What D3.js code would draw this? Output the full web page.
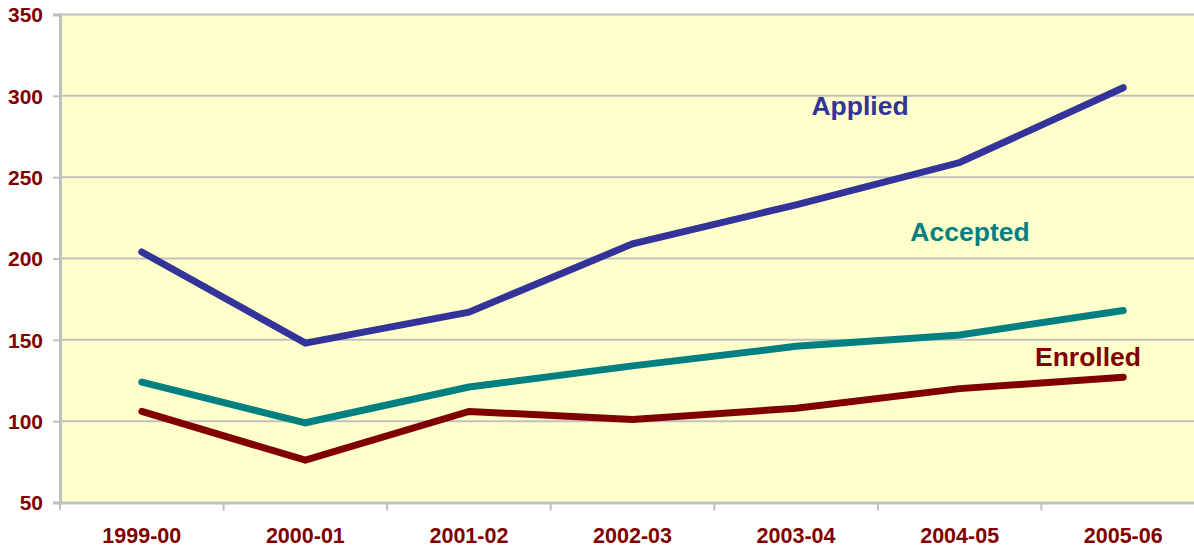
<!DOCTYPE html>
<html>
<head>
<meta charset="utf-8">
<script src="https://cdn.jsdelivr.net/npm/d3@7"></script>
<style>
  body { margin: 0; background: #fff; }
  text { font-family: "Liberation Sans", Arial, sans-serif; font-weight: bold; }
</style>
</head>
<body>
<script>
// data
var years = ["1999-00", "2000-01", "2001-02", "2002-03", "2003-04", "2004-05", "2005-06"];
var applied  = [204, 148, 167, 209, 233, 259, 305];
var accepted = [124,  99, 121, 134, 146, 153, 168];
var enrolled = [106,  76, 106, 101, 108, 120, 127];
var yTicks = [50, 100, 150, 200, 250, 300, 350];

var width = 1194, height = 548,
    margin = {left: 60, top: 14.5, right: -11, bottom: 45.5},
    svg = d3.select("body").append("svg").attr("width", width).attr("height", height);

var x = d3.scaleBand().domain(years).range([margin.left, width - margin.right]),
    y = d3.scaleLinear().domain([50, 350]).range([height - margin.bottom, margin.top]);

// plot background
svg.append("rect")
   .attr("x", margin.left).attr("y", margin.top)
   .attr("width", width - margin.right - margin.left)
   .attr("height", y(50) - y(350))
   .attr("fill", "#ffffcc");

// gridlines
svg.append("g").selectAll("line")
   .data(yTicks.slice(1))
   .enter().append("line")
     .attr("x1", margin.left).attr("x2", width)
     .attr("y1", function(d){ return y(d); })
     .attr("y2", function(d){ return y(d); })
     .attr("stroke", "#c0c0c0").attr("stroke-width", 2);

// y axis
var yAxis = d3.axisLeft(y).tickValues(yTicks).tickSize(7).tickPadding(10);
var gy = svg.append("g").attr("transform", "translate(" + margin.left + ",0)").call(yAxis);
gy.select(".domain").attr("stroke", "#c0c0c0").attr("stroke-width", 3);
gy.selectAll(".tick line").attr("stroke", "#c0c0c0").attr("stroke-width", 2);
gy.selectAll(".tick text").attr("fill", "#800000").style("font-size", "21px").attr("dy", "0.35em");

// x axis
var xAxis = d3.axisBottom(x).tickSize(0).tickPadding(25);
var gx = svg.append("g").attr("transform", "translate(0," + y(50) + ")").call(xAxis);
gx.select(".domain").attr("stroke", "#c0c0c0").attr("stroke-width", 3);
gx.selectAll(".tick text").attr("fill", "#800000").style("font-size", "21.5px");
gx.selectAll(".sep")
  .data(years.concat(["end"]))
  .enter().append("line").attr("class", "sep")
    .attr("x1", function(d, i){ return margin.left + i * x.step(); })
    .attr("x2", function(d, i){ return margin.left + i * x.step(); })
    .attr("y1", 0).attr("y2", 8)
    .attr("stroke", "#c0c0c0").attr("stroke-width", 2);

// lines
var series = [
  {name: "Applied",  values: applied,  color: "#333399", lx: 860,  ly: 115},
  {name: "Accepted", values: accepted, color: "#008080", lx: 970,  ly: 241},
  {name: "Enrolled", values: enrolled, color: "#800000", lx: 1088, ly: 366}
];

var line = d3.line()
  .x(function(d, i){ return x(years[i]) + x.bandwidth() / 2; })
  .y(function(d){ return y(d); });

svg.append("g").selectAll("path")
   .data(series)
   .enter().append("path")
     .attr("d", function(s){ return line(s.values); })
     .attr("fill", "none")
     .attr("stroke", function(s){ return s.color; })
     .attr("stroke-width", 7)
     .attr("stroke-linecap", "round")
     .attr("stroke-linejoin", "miter");

svg.append("g").selectAll("text")
   .data(series)
   .enter().append("text")
     .attr("x", function(s){ return s.lx; })
     .attr("y", function(s){ return s.ly; })
     .attr("text-anchor", "middle")
     .attr("fill", function(s){ return s.color; })
     .style("font-size", "26.5px")
     .text(function(s){ return s.name; });
</script>
</body>
</html>
